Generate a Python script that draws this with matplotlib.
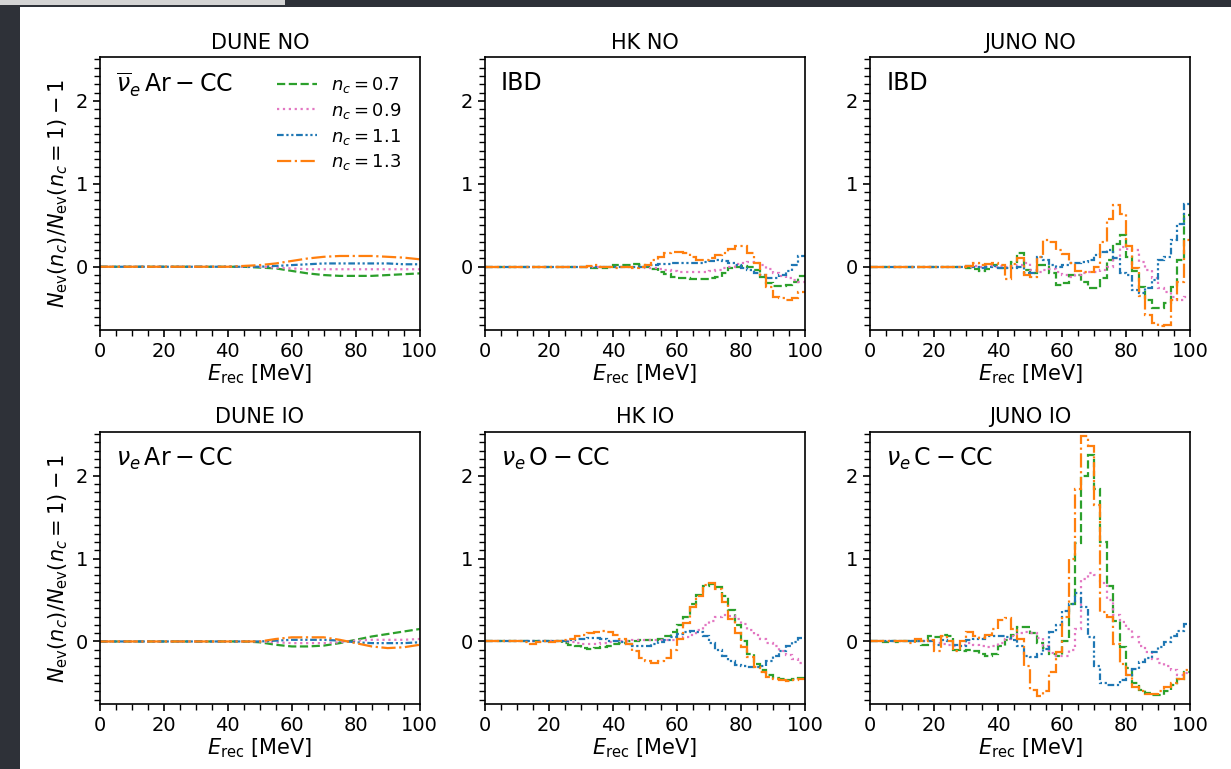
import numpy as np
import matplotlib
matplotlib.use("Agg")
import matplotlib.pyplot as plt
from matplotlib.patches import Rectangle
from matplotlib.ticker import MultipleLocator

# energy grid: DUNE curves sampled every 5 MeV, HK / JUNO histograms in 2 MeV bins
e_dune = np.arange(0, 101, 5)
e_edges = np.arange(0, 101, 2)

n_c_labels = [r"$n_c = 0.7$", r"$n_c = 0.9$", r"$n_c = 1.1$", r"$n_c = 1.3$"]
colors = ["#2ca02c", "#e377c2", "#1f77b4", "#ff7f0e"]
styles = ["--", ":", (0, (3.0, 1.2, 1.0, 1.2, 1.0, 1.2)), "-."]

# DUNE NO (anti-nu_e Ar CC)
dune_no_07 = [0, 0, 0, 0, 0, 0, 0, 0, 0, 0, -0.01, -0.02, -0.05, -0.08, -0.10, -0.11, -0.11, -0.11, -0.10, -0.09, -0.08]
dune_no_09 = [0, 0, 0, 0, 0, 0, 0, 0, 0, 0, 0, -0.01, -0.02, -0.03, -0.03, -0.03, -0.03, -0.03, -0.03, -0.03, -0.03]
dune_no_11 = [0, 0, 0, 0, 0, 0, 0, 0, 0, 0, 0, 0.01, 0.02, 0.03, 0.04, 0.04, 0.04, 0.04, 0.04, 0.03, 0.03]
dune_no_13 = [0, 0, 0, 0, 0, 0, 0, 0, 0, 0.01, 0.02, 0.04, 0.07, 0.10, 0.12, 0.13, 0.13, 0.13, 0.12, 0.11, 0.09]

# DUNE IO (nu_e Ar CC)
dune_io_07 = [0, 0, 0, 0, 0, 0, 0, 0, 0, 0, -0.01, -0.04, -0.06, -0.06, -0.05, -0.02, 0.02, 0.06, 0.09, 0.12, 0.15]
dune_io_09 = [0, 0, 0, 0, 0, 0, 0, 0, 0, 0, 0, -0.01, -0.02, -0.02, -0.02, -0.01, 0.01, 0.02, 0.02, 0.02, 0.03]
dune_io_11 = [0, 0, 0, 0, 0, 0, 0, 0, 0, 0, 0, 0.01, 0.02, 0.02, 0.02, 0.01, -0.01, -0.02, -0.02, -0.02, -0.01]
dune_io_13 = [0, 0, 0, 0, 0, 0, 0, 0, 0, 0, 0, 0.03, 0.05, 0.05, 0.05, 0.02, -0.02, -0.06, -0.08, -0.07, -0.04]

# HK NO (IBD)
hk_no_07 = [0, 0, 0, 0, 0, 0, 0, 0, 0, 0,
            0, 0, 0, 0, 0, 0, -0.01, -0.02, -0.02, 0.0,
            0.02, 0.02, 0.02, 0.03, 0.02, 0.0, -0.03, -0.06, -0.09, -0.12,
            -0.13, -0.14, -0.15, -0.15, -0.15, -0.14, -0.12, -0.08, -0.02, 0.0,
            0.01, 0.0, -0.04, -0.12, -0.20, -0.23, -0.23, -0.22, -0.18, -0.11]
hk_no_09 = [0, 0, 0, 0, 0, 0, 0, 0, 0, 0,
            0, 0, 0, 0, 0, 0, 0, 0, 0, 0,
            0, 0, 0, 0, 0, -0.01, -0.02, -0.03, -0.04, -0.05,
            -0.06, -0.06, -0.06, -0.06, -0.06, -0.05, -0.04, -0.02, 0.0, 0.03,
            0.05, 0.06, 0.05, 0.02, -0.03, -0.07, -0.11, -0.14, -0.16, -0.18]
hk_no_11 = [0, 0, 0, 0, 0, 0, 0, 0, 0, 0,
            0, 0, 0, 0, 0, 0, 0, 0, 0, 0,
            0, 0, 0, 0, 0, 0.01, 0.02, 0.03, 0.03, 0.04,
            0.04, 0.04, 0.05, 0.05, 0.06, 0.07, 0.08, 0.07, 0.05, 0.02,
            -0.01, -0.04, -0.07, -0.10, -0.13, -0.14, -0.10, -0.05, 0.02, 0.13]
hk_no_13 = [0, 0, 0, 0, 0, 0, 0, 0, 0, 0,
            0, 0, 0, 0, 0, 0, 0.01, 0.02, 0.0, 0.0,
            -0.01, 0.0, 0.0, -0.01, 0.0, 0.02, 0.08, 0.12, 0.16, 0.18,
            0.18, 0.16, 0.12, 0.08, 0.08, 0.10, 0.14, 0.17, 0.22, 0.25,
            0.25, 0.16, 0.04, -0.10, -0.24, -0.36, -0.38, -0.40, -0.38, -0.30]

# HK IO (nu_e O CC)
hk_io_07 = [0, 0, 0, 0, 0, 0, 0.01, 0.01, 0.0, 0.0,
            0.01, 0.0, -0.02, -0.04, -0.06, -0.08, -0.09, -0.08, -0.07, -0.05,
            -0.03, -0.02, 0.0, 0.01, 0.02, 0.02, 0.02, 0.03, 0.06, 0.12,
            0.20, 0.30, 0.45, 0.56, 0.67, 0.69, 0.66, 0.55, 0.38, 0.20,
            0.0, -0.15, -0.27, -0.35, -0.40, -0.44, -0.45, -0.46, -0.45, -0.44]
hk_io_09 = [0, 0, 0, 0, 0, 0, 0, 0, 0, 0,
            0, 0, 0, -0.01, -0.02, -0.03, -0.03, -0.03, -0.02, -0.01,
            0.0, 0.0, 0.01, 0.02, 0.02, 0.02, 0.02, 0.02, 0.02, 0.02,
            0.03, 0.05, 0.08, 0.14, 0.20, 0.25, 0.30, 0.32, 0.31, 0.27,
            0.21, 0.14, 0.08, 0.03, -0.02, -0.06, -0.11, -0.16, -0.21, -0.26]
hk_io_11 = [0, 0, 0, 0, 0, 0, 0, 0, 0, 0,
            0, 0, 0.01, 0.02, 0.03, 0.03, 0.04, 0.04, 0.03, 0.01,
            0.0, -0.01, -0.03, -0.05, -0.06, -0.05, -0.03, -0.01, 0.02, 0.05,
            0.09, 0.12, 0.13, 0.12, 0.07, -0.02, -0.10, -0.18, -0.24, -0.28,
            -0.30, -0.31, -0.31, -0.29, -0.24, -0.17, -0.11, -0.06, -0.01, 0.04]
hk_io_13 = [0, 0, 0, 0, 0, 0, -0.01, -0.03, -0.01, 0.0,
            -0.01, 0.0, 0.02, 0.03, 0.06, 0.08, 0.10, 0.12, 0.13, 0.11,
            0.08, 0.03, -0.03, -0.12, -0.20, -0.24, -0.26, -0.24, -0.20, -0.10,
            0.03, 0.22, 0.42, 0.55, 0.68, 0.70, 0.63, 0.47, 0.27, 0.10,
            -0.07, -0.19, -0.31, -0.37, -0.43, -0.45, -0.47, -0.48, -0.47, -0.45]

# JUNO NO (IBD)
juno_no_07 = [0, 0, 0, 0, 0, 0, 0, 0, 0, 0,
              0, 0, 0, 0, 0, -0.02, -0.03, -0.05, -0.03, 0.02,
              -0.02, -0.02, 0.06, 0.17, -0.04, -0.08, 0.02, 0.02, -0.08, -0.22,
              -0.20, -0.10, -0.10, -0.18, -0.26, -0.26, -0.14, 0.08, 0.28, 0.38,
              0.12, -0.05, -0.24, -0.40, -0.50, -0.50, -0.44, -0.24, 0.08, 0.62]
juno_no_09 = [0, 0, 0, 0, 0, 0, 0, 0, 0, 0,
              0, 0, 0, 0, 0, 0, 0.01, 0.0, 0.01, 0.0,
              0.01, 0.0, 0.01, 0.02, 0.04, -0.04, -0.06, -0.04, -0.03, -0.06,
              -0.10, -0.12, -0.10, -0.08, -0.06, -0.06, -0.04, 0.0, 0.10, 0.24,
              0.22, 0.20, 0.06, -0.04, -0.14, -0.26, -0.30, -0.36, -0.40, -0.36]
juno_no_11 = [0, 0, 0, 0, 0, 0, 0, 0, 0, 0,
              0, 0, 0, 0, 0, 0.01, 0.0, -0.01, 0.0, 0.01,
              -0.01, -0.02, -0.02, 0.0, -0.07, -0.07, 0.12, 0.08, 0.02, 0.0,
              0.02, 0.04, 0.05, 0.06, 0.08, 0.14, 0.18, 0.20, 0.10, -0.08,
              -0.10, -0.28, -0.32, -0.26, -0.16, 0.08, 0.12, 0.32, 0.52, 0.76]
juno_no_13 = [0, 0, 0, 0, 0, 0, 0, 0, 0, 0,
              0, 0, 0, 0, 0, 0.01, 0.04, 0.02, 0.03, 0.05,
              0.02, -0.15, 0.03, 0.10, -0.10, -0.12, 0.12, 0.32, 0.30, 0.20,
              0.15, 0.05, -0.05, -0.06, -0.06, 0.0, 0.30, 0.58, 0.74, 0.64,
              0.25, -0.02, -0.35, -0.58, -0.68, -0.72, -0.70, -0.40, -0.18, 0.32]

# JUNO IO (nu_e C CC)
juno_io_07 = [0, 0, -0.01, 0.0, -0.01, 0.0, 0.0, 0.0, -0.04, 0.06,
              0.05, 0.08, 0.06, -0.10, -0.12, -0.10, -0.12, -0.15, -0.17, -0.15,
              -0.05, 0.02, 0.08, 0.18, 0.18, 0.10, -0.02, -0.08, -0.15, -0.17,
              0.0, 0.45, 1.19, 2.00, 2.25, 1.84, 1.20, 0.67, 0.25, -0.07,
              -0.32, -0.50, -0.58, -0.62, -0.64, -0.64, -0.60, -0.53, -0.45, -0.37]
juno_io_09 = [0, 0, 0, 0, 0, 0, 0, 0, 0, 0,
              -0.02, -0.03, -0.04, -0.05, -0.04, -0.02, -0.04, -0.06, -0.07, -0.05,
              -0.02, 0.03, 0.06, 0.10, 0.11, 0.10, 0.04, -0.05, -0.14, -0.18,
              -0.17, -0.10, 0.15, 0.75, 0.82, 0.80, 0.70, 0.50, 0.32, 0.23,
              0.15, 0.05, -0.05, -0.13, -0.21, -0.26, -0.30, -0.35, -0.40, -0.38]
juno_io_11 = [0, 0, 0, 0, 0, 0, 0, 0.01, 0.0, 0.0,
              -0.04, 0.02, 0.0, -0.04, -0.05, 0.02, 0.03, 0.03, 0.06, 0.06,
              0.07, 0.05, 0.02, -0.05, -0.17, -0.19, -0.15, -0.09, 0.12, 0.20,
              0.37, 0.45, 0.58, 0.42, 0.05, -0.29, -0.50, -0.53, -0.52, -0.47,
              -0.40, -0.33, -0.25, -0.20, -0.13, -0.07, -0.01, 0.07, 0.13, 0.21]
juno_io_13 = [0, 0, 0, 0.01, 0, 0, -0.02, 0.03, 0.0, 0.02,
              -0.12, 0.06, 0.0, -0.12, 0.0, 0.12, 0.06, 0.04, 0.08, 0.15,
              0.26, 0.28, 0.15, 0.03, -0.30, -0.58, -0.66, -0.60, -0.37, -0.13,
              0.30, 1.00, 1.84, 2.48, 2.36, 1.65, 0.35, 0.30, -0.03, -0.27,
              -0.41, -0.55, -0.60, -0.63, -0.63, -0.60, -0.55, -0.50, -0.45, -0.35]

titles = ["DUNE NO", "HK NO", "JUNO NO", "DUNE IO", "HK IO", "JUNO IO"]
channels = [r"$\overline{\nu}_e\,\mathrm{Ar-CC}$", "IBD", "IBD",
            r"$\nu_e\,\mathrm{Ar-CC}$", r"$\nu_e\,\mathrm{O-CC}$", r"$\nu_e\,\mathrm{C-CC}$"]
panels = [
    [dune_no_07, dune_no_09, dune_no_11, dune_no_13],
    [hk_no_07, hk_no_09, hk_no_11, hk_no_13],
    [juno_no_07, juno_no_09, juno_no_11, juno_no_13],
    [dune_io_07, dune_io_09, dune_io_11, dune_io_13],
    [hk_io_07, hk_io_09, hk_io_11, hk_io_13],
    [juno_io_07, juno_io_09, juno_io_11, juno_io_13],
]

fig, axes = plt.subplots(2, 3, figsize=(12.31, 7.69), dpi=100, facecolor="#2e3138")
fig.subplots_adjust(left=0.0812, right=0.9667, bottom=0.0839, top=0.9259,
                    wspace=0.2047, hspace=0.3736)
# white page on the dark backdrop
fig.add_artist(Rectangle((20 / 1231, 0), 1 - 20 / 1231, 1 - 7 / 769,
                         transform=fig.transFigure, facecolor="white",
                         edgecolor="none", zorder=-2))
fig.add_artist(Rectangle((0, 1 - 5 / 769), 285 / 1231, 5 / 769,
                         transform=fig.transFigure, facecolor="#d4d4d4",
                         edgecolor="none", zorder=-2))

for i, ax in enumerate(axes.flat):
    series = panels[i]
    for vals, lab, c, ls in zip(series, n_c_labels, colors, styles):
        if i % 3 == 0:
            ax.plot(e_dune, vals, color=c, ls=ls, lw=1.6, label=lab)
        else:
            ax.stairs(vals, e_edges, baseline=None, color=c, ls=ls, lw=1.6, label=lab)
    ax.set_xlim(0, 100)
    ax.set_ylim(-0.76, 2.53)
    ax.set_title(titles[i], fontsize=15, pad=6)
    ax.set_xlabel(r"$E_{\rm rec}$ [MeV]", fontsize=15, labelpad=1)
    ax.text(0.05, 0.95, channels[i], transform=ax.transAxes, fontsize=17,
            va="top", ha="left")
    ax.xaxis.set_major_locator(MultipleLocator(20))
    ax.xaxis.set_minor_locator(MultipleLocator(5))
    ax.yaxis.set_major_locator(MultipleLocator(1))
    ax.yaxis.set_minor_locator(MultipleLocator(0.1))
    ax.tick_params(which="major", length=5, width=1.2, labelsize=14, direction="out")
    ax.tick_params(which="minor", length=4, width=1.0, direction="out")
    for sp in ax.spines.values():
        sp.set_linewidth(1.2)
    if i % 3 == 0:
        ax.set_ylabel(r"$N_{\rm ev}(n_c)/N_{\rm ev}(n_c=1)-1$", fontsize=15)

axes[0, 0].legend(loc="upper right", frameon=False, fontsize=13,
                  handlelength=2.2, labelspacing=0.32, borderaxespad=0.6)

fig.savefig("out.png", dpi=100, facecolor=fig.get_facecolor())
